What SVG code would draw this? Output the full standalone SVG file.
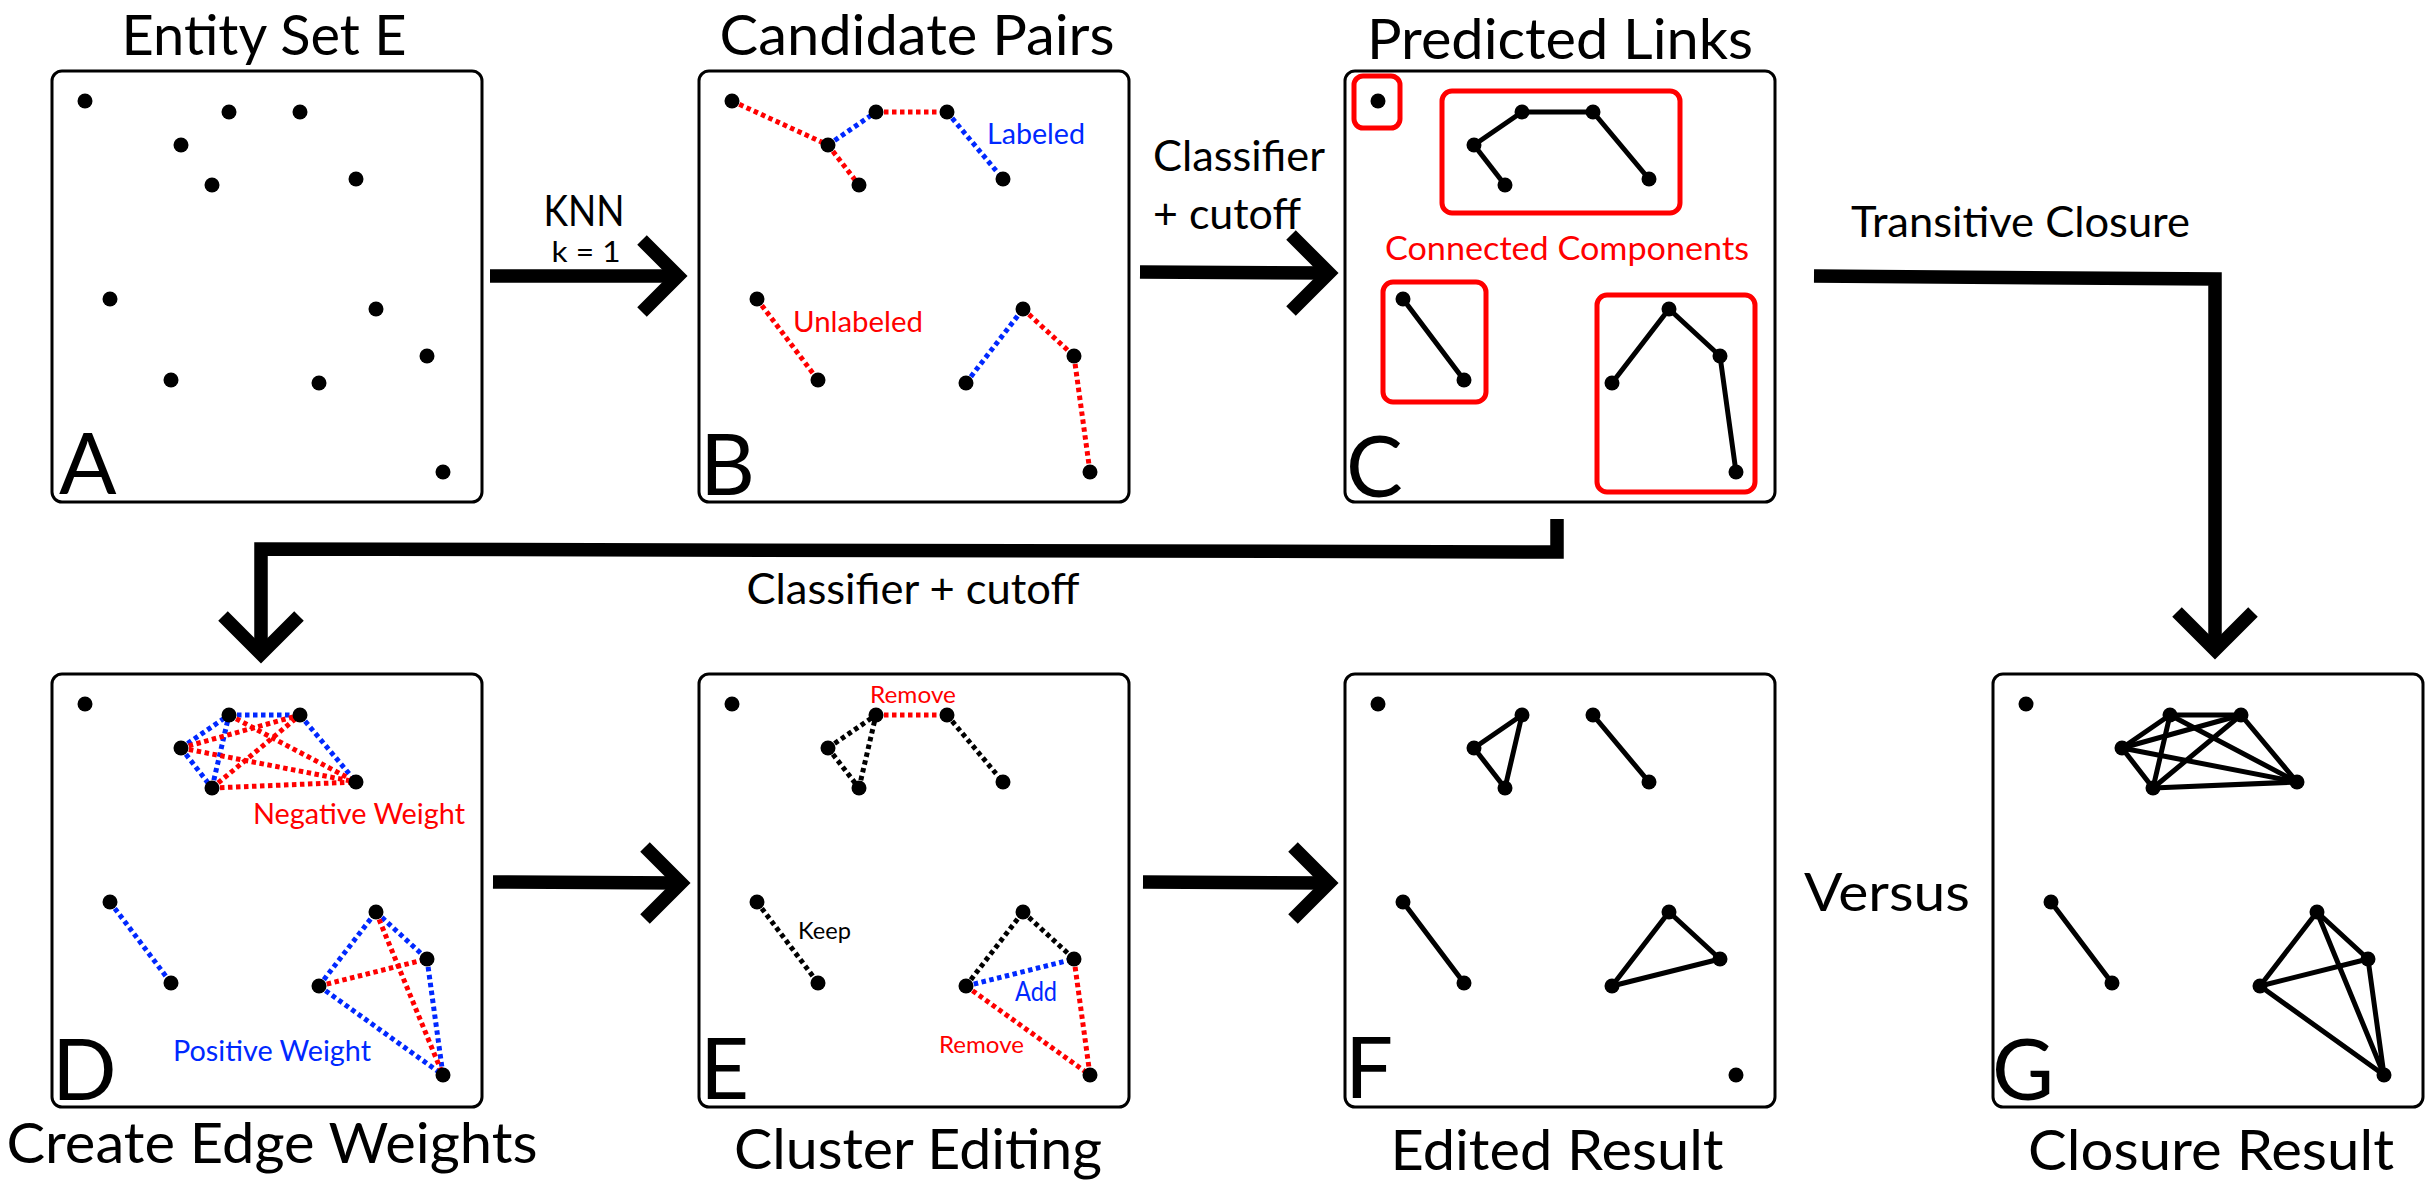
<svg xmlns="http://www.w3.org/2000/svg" width="2436" height="1186" viewBox="0 0 2436 1186">
<style>
text{font-family:Lato,"Open Sans","Liberation Sans",sans-serif;fill:#000}
.title{font-size:56px;text-anchor:middle}
.mid{font-size:42px}
.lbl{font-size:85px}
.sm{font-size:28.5px}
.xs{font-size:23.5px}
.red{fill:#FF0000}
.blue{fill:#0028FF}
.box{fill:#fff;stroke:#000;stroke-width:3}
.rbox{fill:none;stroke:#FF0000;stroke-width:5}
.dot{fill:#000}
.sol{stroke:#000;stroke-width:5;fill:none;stroke-linecap:round}
.dr{stroke:#FF0000;stroke-width:5;stroke-dasharray:4.5 3.5;fill:none}
.db{stroke:#0028FF;stroke-width:5;stroke-dasharray:4.5 3.5;fill:none}
.dk{stroke:#000;stroke-width:5;stroke-dasharray:4.5 3.5;fill:none}
.conn{stroke:#000;stroke-width:13.5;fill:none;stroke-linejoin:miter;stroke-miterlimit:10}
</style>
<defs>
<g id="dots">
<circle class="dot" cx="33" cy="30" r="7.5"/>
<circle class="dot" cx="129" cy="74" r="7.5"/>
<circle class="dot" cx="160" cy="114" r="7.5"/>
<circle class="dot" cx="177" cy="41" r="7.5"/>
<circle class="dot" cx="248" cy="41" r="7.5"/>
<circle class="dot" cx="304" cy="108" r="7.5"/>
<circle class="dot" cx="58" cy="228" r="7.5"/>
<circle class="dot" cx="119" cy="309" r="7.5"/>
<circle class="dot" cx="324" cy="238" r="7.5"/>
<circle class="dot" cx="375" cy="285" r="7.5"/>
<circle class="dot" cx="267" cy="312" r="7.5"/>
<circle class="dot" cx="391" cy="401" r="7.5"/>
</g>
</defs>
<rect width="2436" height="1186" fill="#fff"/>

<g id="connectors">
<line class="conn" x1="490" y1="276" x2="678" y2="276"/>
<polyline class="conn" points="642,240 678,276 642,312"/>
<line class="conn" x1="1140" y1="272" x2="1329" y2="273"/>
<polyline class="conn" points="1291,235 1329,273 1291,311"/>
<polyline class="conn" points="1814,276 2215,279 2215,650"/>
<polyline class="conn" points="2177,612 2215,650 2253,612"/>
<polyline class="conn" points="1557,519 1557,552 261,549 261,654"/>
<polyline class="conn" points="223,616 261,654 299,616"/>
<line class="conn" x1="493" y1="882" x2="681" y2="883"/>
<polyline class="conn" points="645,847 681,883 645,919"/>
<line class="conn" x1="1143" y1="882" x2="1329" y2="883"/>
<polyline class="conn" points="1293,847 1329,883 1293,919"/>
<text class="mid" x="584" y="226" text-anchor="middle" textLength="81" lengthAdjust="spacingAndGlyphs">KNN</text>
<text x="586" y="262" text-anchor="middle" style="font-size:29px" textLength="69" lengthAdjust="spacingAndGlyphs">k = 1</text>
<text class="mid" x="1153" y="171" textLength="172" lengthAdjust="spacingAndGlyphs">Classifier</text>
<text class="mid" x="1153" y="229" textLength="148" lengthAdjust="spacingAndGlyphs">+ cutoff</text>
<text class="mid" x="1851" y="237" textLength="339" lengthAdjust="spacingAndGlyphs">Transitive Closure</text>
<text class="mid" x="913" y="604" text-anchor="middle" textLength="333" lengthAdjust="spacingAndGlyphs">Classifier + cutoff</text>
<text x="1887" y="911" text-anchor="middle" style="font-size:53px" textLength="166" lengthAdjust="spacingAndGlyphs">Versus</text>
</g>

<g id="panelA" transform="translate(52,71)">
<text class="title" x="212" y="-16" textLength="285" lengthAdjust="spacingAndGlyphs">Entity Set E</text>
<rect class="box" x="0" y="0" width="430" height="431" rx="10"/>
<use href="#dots"/>
<text class="lbl" x="7" y="423">A</text>
</g>

<g id="panelB" transform="translate(699,71)">
<text class="title" x="218" y="-16" textLength="395" lengthAdjust="spacingAndGlyphs">Candidate Pairs</text>
<rect class="box" x="0" y="0" width="430" height="431" rx="10"/>
<line class="dr" x1="33" y1="30" x2="129" y2="74"/>
<line class="dr" x1="129" y1="74" x2="160" y2="114"/>
<line class="db" x1="129" y1="74" x2="177" y2="41"/>
<line class="dr" x1="177" y1="41" x2="248" y2="41"/>
<line class="db" x1="248" y1="41" x2="304" y2="108"/>
<line class="dr" x1="58" y1="228" x2="119" y2="309"/>
<line class="db" x1="267" y1="312" x2="324" y2="238"/>
<line class="dr" x1="324" y1="238" x2="375" y2="285"/>
<line class="dr" x1="375" y1="285" x2="391" y2="401"/>
<use href="#dots"/>
<text class="sm blue" x="288" y="73" textLength="98" lengthAdjust="spacingAndGlyphs">Labeled</text>
<text class="sm red" x="94" y="261" textLength="130" lengthAdjust="spacingAndGlyphs">Unlabeled</text>
<text class="lbl" x="1" y="424">B</text>
</g>

<g id="panelC" transform="translate(1345,71)">
<text class="title" x="215" y="-12" textLength="386" lengthAdjust="spacingAndGlyphs">Predicted Links</text>
<rect class="box" x="0" y="0" width="430" height="431" rx="10"/>
<rect class="rbox" x="9" y="5" width="46" height="52" rx="9"/>
<rect class="rbox" x="97" y="20" width="238" height="122" rx="10"/>
<rect class="rbox" x="38" y="211" width="103" height="120" rx="10"/>
<rect class="rbox" x="252" y="224" width="158" height="197" rx="10"/>
<line class="sol" x1="129" y1="74" x2="160" y2="114"/>
<line class="sol" x1="129" y1="74" x2="177" y2="41"/>
<line class="sol" x1="177" y1="41" x2="248" y2="41"/>
<line class="sol" x1="248" y1="41" x2="304" y2="108"/>
<line class="sol" x1="58" y1="228" x2="119" y2="309"/>
<line class="sol" x1="267" y1="312" x2="324" y2="238"/>
<line class="sol" x1="324" y1="238" x2="375" y2="285"/>
<line class="sol" x1="375" y1="285" x2="391" y2="401"/>
<use href="#dots"/>
<text class="red" x="222" y="189" text-anchor="middle" style="font-size:33px" textLength="364" lengthAdjust="spacingAndGlyphs">Connected Components</text>
<text class="lbl" x="1" y="426">C</text>
</g>

<g id="panelD" transform="translate(52,674)">
<rect class="box" x="0" y="0" width="430" height="433" rx="10"/>
<line class="db" x1="129" y1="74" x2="177" y2="41"/>
<line class="db" x1="177" y1="41" x2="248" y2="41"/>
<line class="db" x1="248" y1="41" x2="304" y2="108"/>
<line class="db" x1="129" y1="74" x2="160" y2="114"/>
<line class="db" x1="160" y1="114" x2="177" y2="41"/>
<line class="dr" x1="129" y1="74" x2="248" y2="41"/>
<line class="dr" x1="129" y1="74" x2="304" y2="108"/>
<line class="dr" x1="160" y1="114" x2="248" y2="41"/>
<line class="dr" x1="160" y1="114" x2="304" y2="108"/>
<line class="dr" x1="177" y1="41" x2="304" y2="108"/>
<line class="db" x1="58" y1="228" x2="119" y2="309"/>
<line class="db" x1="267" y1="312" x2="324" y2="238"/>
<line class="db" x1="324" y1="238" x2="375" y2="285"/>
<line class="db" x1="375" y1="285" x2="391" y2="401"/>
<line class="db" x1="267" y1="312" x2="391" y2="401"/>
<line class="dr" x1="267" y1="312" x2="375" y2="285"/>
<line class="dr" x1="324" y1="238" x2="391" y2="401"/>
<use href="#dots"/>
<text class="sm red" x="201" y="150" textLength="212" lengthAdjust="spacingAndGlyphs">Negative Weight</text>
<text class="sm blue" x="121" y="387" textLength="198" lengthAdjust="spacingAndGlyphs">Positive Weight</text>
<text class="lbl" x="0" y="426">D</text>
<text class="title" x="220" y="489" textLength="531" lengthAdjust="spacingAndGlyphs">Create Edge Weights</text>
</g>

<g id="panelE" transform="translate(699,674)">
<rect class="box" x="0" y="0" width="430" height="433" rx="10"/>
<line class="dk" x1="129" y1="74" x2="177" y2="41"/>
<line class="dk" x1="129" y1="74" x2="160" y2="114"/>
<line class="dk" x1="160" y1="114" x2="177" y2="41"/>
<line class="dk" x1="248" y1="41" x2="304" y2="108"/>
<line class="dk" x1="58" y1="228" x2="119" y2="309"/>
<line class="dk" x1="267" y1="312" x2="324" y2="238"/>
<line class="dk" x1="324" y1="238" x2="375" y2="285"/>
<line class="dr" x1="177" y1="41" x2="248" y2="41"/>
<line class="dr" x1="375" y1="285" x2="391" y2="401"/>
<line class="dr" x1="267" y1="312" x2="391" y2="401"/>
<line class="db" x1="267" y1="312" x2="375" y2="285"/>
<use href="#dots"/>
<text class="xs red" x="171" y="29" textLength="86" lengthAdjust="spacingAndGlyphs">Remove</text>
<text class="xs" x="99" y="265" textLength="53" lengthAdjust="spacingAndGlyphs">Keep</text>
<text class="blue" x="316" y="327" style="font-size:26px" textLength="42" lengthAdjust="spacingAndGlyphs">Add</text>
<text class="xs red" x="240" y="379" textLength="85" lengthAdjust="spacingAndGlyphs">Remove</text>
<text class="lbl" x="1" y="425">E</text>
<text class="title" x="219" y="495" textLength="368" lengthAdjust="spacingAndGlyphs">Cluster Editing</text>
</g>

<g id="panelF" transform="translate(1345,674)">
<rect class="box" x="0" y="0" width="430" height="433" rx="10"/>
<line class="sol" x1="129" y1="74" x2="177" y2="41"/>
<line class="sol" x1="129" y1="74" x2="160" y2="114"/>
<line class="sol" x1="160" y1="114" x2="177" y2="41"/>
<line class="sol" x1="248" y1="41" x2="304" y2="108"/>
<line class="sol" x1="58" y1="228" x2="119" y2="309"/>
<line class="sol" x1="267" y1="312" x2="324" y2="238"/>
<line class="sol" x1="324" y1="238" x2="375" y2="285"/>
<line class="sol" x1="267" y1="312" x2="375" y2="285"/>
<use href="#dots"/>
<text class="lbl" x="0" y="424">F</text>
<text class="title" x="212" y="496" textLength="333" lengthAdjust="spacingAndGlyphs">Edited Result</text>
</g>

<g id="panelG" transform="translate(1993,674)">
<rect class="box" x="0" y="0" width="430" height="433" rx="10"/>
<line class="sol" x1="129" y1="74" x2="177" y2="41"/>
<line class="sol" x1="129" y1="74" x2="248" y2="41"/>
<line class="sol" x1="129" y1="74" x2="304" y2="108"/>
<line class="sol" x1="129" y1="74" x2="160" y2="114"/>
<line class="sol" x1="160" y1="114" x2="177" y2="41"/>
<line class="sol" x1="160" y1="114" x2="248" y2="41"/>
<line class="sol" x1="160" y1="114" x2="304" y2="108"/>
<line class="sol" x1="177" y1="41" x2="248" y2="41"/>
<line class="sol" x1="177" y1="41" x2="304" y2="108"/>
<line class="sol" x1="248" y1="41" x2="304" y2="108"/>
<line class="sol" x1="58" y1="228" x2="119" y2="309"/>
<line class="sol" x1="267" y1="312" x2="324" y2="238"/>
<line class="sol" x1="267" y1="312" x2="375" y2="285"/>
<line class="sol" x1="267" y1="312" x2="391" y2="401"/>
<line class="sol" x1="324" y1="238" x2="375" y2="285"/>
<line class="sol" x1="324" y1="238" x2="391" y2="401"/>
<line class="sol" x1="375" y1="285" x2="391" y2="401"/>
<use href="#dots"/>
<text class="lbl" x="-1" y="426">G</text>
<text class="title" x="218" y="496" textLength="366" lengthAdjust="spacingAndGlyphs">Closure Result</text>
</g>
</svg>
